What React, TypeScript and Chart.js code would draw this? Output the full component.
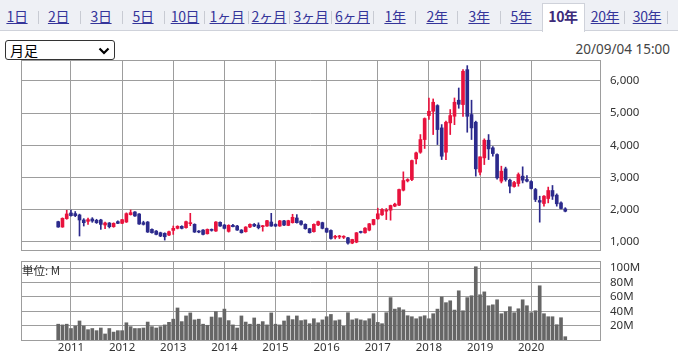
import React, { useEffect, useRef } from "react";
import { Chart, registerables } from "chart.js";

Chart.register(...registerables);

// months counted from Jan 2010; first candle = Oct 2010
const FIRST_MONTH_INDEX = 9;
const X_MIN = 0.27;
const X_MAX = 136.15;

const opens = [
  1626, 1459, 1720, 1896, 1875, 1834, 1678, 1636, 1709, 1667, 1678, 1522,
  1584, 1470, 1626, 1574, 1615, 1844, 1927, 1865, 1595, 1615, 1386, 1334,
  1282, 1262, 1210, 1355, 1418, 1480, 1438, 1564, 1542, 1334, 1365, 1250,
  1365, 1334, 1605, 1520, 1324, 1511, 1490, 1365, 1314, 1459, 1542, 1520,
  1470, 1490, 1615, 1540, 1490, 1650, 1510, 1595, 1740, 1646, 1542, 1407,
  1314, 1522, 1595, 1414, 1352, 1140, 1150, 1140, 1124, 959, 990, 1310,
  1280, 1362, 1538, 1714, 1838, 1952, 1983, 2108, 2139, 2604, 2894, 2935,
  3577, 3784, 4178, 4923, 5057, 5233, 4540, 3784, 4695, 4902, 5400, 5265,
  6350, 4954, 4716, 3163, 3608, 4157, 3919, 3712, 2884, 3267, 2915, 2718,
  2811, 3040, 2935, 2873, 2625, 2283, 2190, 2345, 2594, 2450, 2210, 2024,
];
const highs = [
  1640, 1745, 1980, 1985, 1940, 1860, 1720, 1740, 1750, 1700, 1700, 1615,
  1600, 1590, 1650, 1700, 1900, 1990, 1940, 1880, 1640, 1630, 1400, 1350,
  1300, 1280, 1330, 1490, 1500, 1500, 1640, 1885, 1560, 1350, 1380, 1400,
  1400, 1625, 1620, 1540, 1530, 1540, 1510, 1380, 1470, 1560, 1570, 1590,
  1510, 1670, 1885, 1560, 1665, 1670, 1670, 1855, 1845, 1660, 1560, 1420,
  1560, 1640, 1610, 1430, 1370, 1200, 1200, 1190, 1140, 1080, 1290, 1330,
  1440, 1570, 1700, 2045, 2030, 2035, 2140, 2200, 2640, 3174, 2960, 3540,
  3790, 4333, 4850, 5470, 5440, 5260, 4643, 4750, 5110, 5470, 5780, 6350,
  6475, 5400, 4750, 3640, 4200, 4333, 3960, 3730, 3350, 3320, 2950, 2880,
  3140, 3330, 3060, 2900, 2660, 2418, 2440, 2700, 2750, 2490, 2240, 2060,
];
const lows = [
  1450, 1450, 1700, 1800, 1780, 1180, 1490, 1540, 1605, 1570, 1386, 1407,
  1430, 1450, 1560, 1560, 1600, 1830, 1790, 1540, 1520, 1290, 1270, 1215,
  1160, 1053, 1190, 1230, 1400, 1400, 1420, 1500, 1290, 1280, 1210, 1240,
  1330, 1320, 1480, 1400, 1300, 1460, 1350, 1270, 1300, 1440, 1470, 1400,
  1330, 1480, 1480, 1470, 1480, 1500, 1500, 1580, 1580, 1520, 1390, 1270,
  1300, 1500, 1400, 1290, 1080, 1090, 1100, 1100, 930, 940, 970, 1270,
  1270, 1340, 1520, 1700, 1820, 1690, 1672, 2090, 2120, 2580, 2860, 2900,
  3420, 3750, 3900, 4800, 4333, 4022, 3556, 3556, 4333, 4640, 5150, 4900,
  4405, 4178, 3040, 3080, 3400, 3556, 3660, 2950, 2830, 2884, 2520, 2700,
  2728, 2830, 2860, 2640, 2250, 1610, 2107, 2210, 2315, 2107, 2020, 1930,
];
const closes = [
  1459, 1730, 1865, 1813, 1813, 1678, 1594, 1688, 1646, 1594, 1542, 1584,
  1470, 1574, 1574, 1688, 1875, 1906, 1802, 1553, 1542, 1303, 1282, 1230,
  1178, 1157, 1314, 1418, 1480, 1418, 1626, 1595, 1303, 1303, 1230, 1386,
  1355, 1615, 1490, 1418, 1511, 1470, 1365, 1282, 1459, 1542, 1490, 1438,
  1500, 1657, 1490, 1490, 1650, 1520, 1657, 1760, 1594, 1542, 1407, 1282,
  1542, 1626, 1418, 1300, 1103, 1160, 1170, 1165, 959, 1072, 1280, 1290,
  1424, 1559, 1693, 1870, 2004, 1983, 2128, 2170, 2625, 2904, 2935, 3525,
  3763, 4178, 4830, 5057, 5337, 4488, 3660, 4716, 4923, 5337, 5275, 6300,
  4900, 4540, 3267, 3640, 4157, 3888, 3743, 2987, 3194, 2935, 2728, 2842,
  3090, 2915, 2884, 2656, 2315, 2232, 2418, 2594, 2418, 2180, 2035, 1950,
];
// volume in millions of shares
const volumes = [
  22, 21, 22, 16, 19.5, 26.5, 19.5, 14.4, 16, 13, 16.7, 8.4,
  16, 11, 13, 13, 24, 18.6, 16, 16, 16.7, 25, 18.6, 16.7,
  18.6, 21, 24.6, 29, 44.6, 25.6, 33.5, 37.7, 28, 29, 22, 20.5,
  32, 39.5, 31, 43, 27, 21, 16.7, 33.5, 25, 22, 30.7, 22,
  25.6, 21, 37.7, 22, 21, 26.5, 33.5, 28.4, 33.5, 27, 28, 22.7,
  29.6, 24, 28, 32.4, 35.6, 26.8, 28, 19, 38, 28, 29.6, 28,
  26.8, 29.6, 36.6, 24.5, 22.7, 38, 59, 43, 45, 42, 33.8, 32.4,
  29.6, 32.4, 33.8, 29.6, 36.6, 43, 60, 52, 54.6, 41.7, 68.5, 40.7,
  59, 61.6, 102, 63, 67, 47.7, 49, 56, 36.6, 39.4, 46.3, 38,
  43.5, 56, 47.7, 38, 40.7, 75.5, 36.6, 32.4, 32.4, 21.3, 31, 4.6,
];
const yearLabels = ["2011", "2012", "2013", "2014", "2015", "2016", "2017", "2018", "2019", "2020"];
const priceTicks = [1000, 2000, 3000, 4000, 5000, 6000];
const volumeTicks = [20, 40, 60, 80, 100];
const tabLabels = ["1日", "2日", "3日", "5日", "10日", "1ヶ月", "2ヶ月", "3ヶ月", "6ヶ月", "1年", "2年", "3年", "5年", "10年", "20年", "30年"];
const selectedTab = "10年";
const dateText = "20/09/04 15:00";
const unitText = "単位: M";
const periodOption = "月足";

const UP = "#e8123d";
const DOWN = "#2c2a8c";
const GRID = "#9d9d9d";
const TEXT = "#333333";
const VOL = "#666666";
const TICK_FONT = { family: "'Noto Sans', sans-serif", size: 11.5 };

const tabCenters = [17, 58.5, 101, 143, 185, 227, 269, 311, 352.5, 395, 437, 479, 521, 563, 605, 647];
const separatorXs = [38, 80, 122, 164, 204, 248, 289, 331, 373, 415, 457, 500, 624, 667];

const framePlugin = {
  id: "frame",
  afterDraw(chart: any) {
    const { ctx, chartArea: a } = chart;
    ctx.save();
    ctx.strokeStyle = GRID;
    ctx.lineWidth = 1;
    const l = Math.round(a.left) + 0.5;
    const t = Math.round(a.top) + 0.5;
    const r = Math.round(a.right) + 0.5;
    const b = Math.round(a.bottom) + 0.5;
    ctx.strokeRect(l, t, r - l, b - t);
    ctx.restore();
  },
};

const noPad = (s: any) => {
  s.paddingTop = 0;
  s.paddingBottom = 0;
  s.paddingLeft = 0;
  s.paddingRight = 0;
};

const yearTickBuilder = (s: any) => {
  s.ticks = yearLabels.map((_, i) => ({ value: 12 * (i + 1) }));
};

function PriceChart() {
  const ref = useRef<HTMLCanvasElement>(null);
  useEffect(() => {
    const xs = opens.map((_, i) => FIRST_MONTH_INDEX + i);
    const colors = opens.map((o, i) => (closes[i] >= o ? UP : DOWN));
    const chart = new Chart(ref.current as HTMLCanvasElement, {
      type: "bar",
      data: {
        datasets: [
          {
            label: "body",
            data: xs.map((x, i) => ({ x, y: [opens[i], closes[i]] })) as any,
            backgroundColor: colors,
            barThickness: 3,
            minBarLength: 1,
            grouped: false,
            borderWidth: 0,
          } as any,
          {
            label: "wick",
            data: xs.map((x, i) => ({ x, y: [lows[i], highs[i]] })) as any,
            backgroundColor: colors,
            barThickness: 1,
            grouped: false,
            borderWidth: 0,
          } as any,
        ],
      },
      options: {
        responsive: false,
        animation: false,
        layout: { padding: { left: 21, top: 5, right: 0, bottom: 5 } },
        plugins: { legend: { display: false }, tooltip: { enabled: false } },
        scales: {
          x: {
            type: "linear",
            min: X_MIN,
            max: X_MAX,
            offset: false,
            grid: { color: GRID, drawTicks: false, offset: false },
            border: { display: false },
            ticks: { display: false },
            afterBuildTicks: yearTickBuilder,
            afterFit: (s: any) => {
              s.height = 0;
              noPad(s);
            },
          } as any,
          y: {
            position: "right",
            min: 745,
            max: 6650,
            grid: { color: GRID, drawTicks: false },
            border: { display: false },
            ticks: {
              padding: 10,
              color: TEXT,
              font: TICK_FONT,
              callback: (v: any) => Number(v).toLocaleString("en-US"),
            },
            afterBuildTicks: (s: any) => {
              s.ticks = priceTicks.map((v) => ({ value: v }));
            },
            afterFit: (s: any) => {
              s.width = 78;
              noPad(s);
            },
          } as any,
        },
      },
      plugins: [framePlugin],
    });
    return () => chart.destroy();
  }, []);
  return <canvas ref={ref} width={678} height={200} style={{ position: "absolute", left: 0, top: 55 }} />;
}

function VolumeChart() {
  const ref = useRef<HTMLCanvasElement>(null);
  useEffect(() => {
    const chart = new Chart(ref.current as HTMLCanvasElement, {
      type: "bar",
      data: {
        datasets: [
          {
            label: "volume",
            data: volumes.map((v, i) => ({ x: FIRST_MONTH_INDEX + i, y: v })) as any,
            backgroundColor: VOL,
            barThickness: 3,
            grouped: false,
            borderWidth: 0,
          } as any,
        ],
      },
      options: {
        responsive: false,
        animation: false,
        layout: { padding: { left: 21, top: 5, right: 0, bottom: 0 } },
        plugins: { legend: { display: false }, tooltip: { enabled: false } },
        scales: {
          x: {
            type: "linear",
            min: X_MIN,
            max: X_MAX,
            offset: false,
            grid: { color: GRID, drawTicks: false, offset: false },
            border: { display: false },
            ticks: {
              padding: 1,
              color: TEXT,
              font: TICK_FONT,
              autoSkip: false,
              maxRotation: 0,
              callback: (v: any) => yearLabels[Math.round(Number(v) / 12) - 1] ?? "",
            },
            afterBuildTicks: yearTickBuilder,
            afterFit: (s: any) => {
              s.height = 14;
              noPad(s);
            },
          } as any,
          y: {
            position: "right",
            min: 0,
            max: 110,
            grid: { color: GRID, drawTicks: false },
            border: { display: false },
            ticks: {
              padding: 10,
              color: TEXT,
              font: TICK_FONT,
              callback: (v: any) => `${v}M`,
            },
            afterBuildTicks: (s: any) => {
              s.ticks = volumeTicks.map((v) => ({ value: v }));
            },
            afterFit: (s: any) => {
              s.width = 78;
              noPad(s);
            },
          } as any,
        },
      },
      plugins: [framePlugin],
    });
    return () => chart.destroy();
  }, []);
  return <canvas ref={ref} width={678} height={98} style={{ position: "absolute", left: 0, top: 256 }} />;
}

export default function App() {
  const cjk = "'Noto Sans CJK JP', 'Noto Sans', sans-serif";
  return (
    <div
      style={{
        position: "absolute",
        left: 0,
        top: 0,
        width: 678,
        height: 354,
        background: "#ffffff",
        overflow: "hidden",
        fontFamily: cjk,
      }}
    >
      <div
        style={{
          position: "absolute",
          left: 0,
          top: 0,
          width: 678,
          height: 30,
          background: "#eef0f5",
          borderBottom: "1px solid #cfd2da",
        }}
      />
      <div
        style={{
          position: "absolute",
          left: 542,
          top: 3,
          width: 43,
          height: 29,
          background: "#ffffff",
          border: "1px solid #cfd2da",
          borderBottom: "none",
          boxSizing: "border-box",
        }}
      />
      {separatorXs.map((x) => (
        <div
          key={"s" + x}
          style={{ position: "absolute", left: x, top: 11, width: 1, height: 13, background: "#c8cbd3" }}
        />
      ))}
      {tabLabels.map((t, i) => {
        const sel = t === selectedTab;
        return (
          <div
            key={t}
            style={{
              position: "absolute",
              left: tabCenters[i] - 25,
              width: 50,
              top: 6,
              height: 20,
              lineHeight: "20px",
              textAlign: "center",
              fontSize: 14,
              letterSpacing: -0.3,
              color: sel ? "#3d2b7a" : "#35359a",
              fontWeight: sel ? 700 : 400,
              textDecoration: sel ? "none" : "underline",
              whiteSpace: "nowrap",
            }}
          >
            {t}
          </div>
        );
      })}
      <div
        style={{
          position: "absolute",
          left: 5,
          top: 40,
          width: 110,
          height: 20,
          boxSizing: "border-box",
          border: "1px solid #333",
          borderRadius: 3,
          background: "#fff",
        }}
      >
        <div
          style={{
            position: "absolute",
            left: 4,
            top: 0,
            height: 18,
            lineHeight: "18px",
            fontSize: 14,
            color: "#000",
            fontFamily: cjk,
            whiteSpace: "nowrap",
          }}
        >
          {periodOption}
        </div>
        <svg width="12" height="8" style={{ position: "absolute", left: 92, top: 6 }}>
          <polyline points="1.5,1.5 6,6 10.5,1.5" fill="none" stroke="#000" strokeWidth="2.2" />
        </svg>
      </div>
      <div
        style={{
          position: "absolute",
          right: 8,
          top: 39,
          height: 20,
          lineHeight: "20px",
          fontSize: 13.5,
          color: "#444",
          fontFamily: "'Noto Sans', sans-serif",
          whiteSpace: "nowrap",
        }}
      >
        {dateText}
      </div>
      <PriceChart />
      <VolumeChart />
      <div
        style={{
          position: "absolute",
          left: 22,
          top: 263,
          height: 14,
          lineHeight: "14px",
          fontSize: 11.5,
          color: TEXT,
          fontFamily: cjk,
          whiteSpace: "nowrap",
        }}
      >
        {unitText}
      </div>
    </div>
  );
}
